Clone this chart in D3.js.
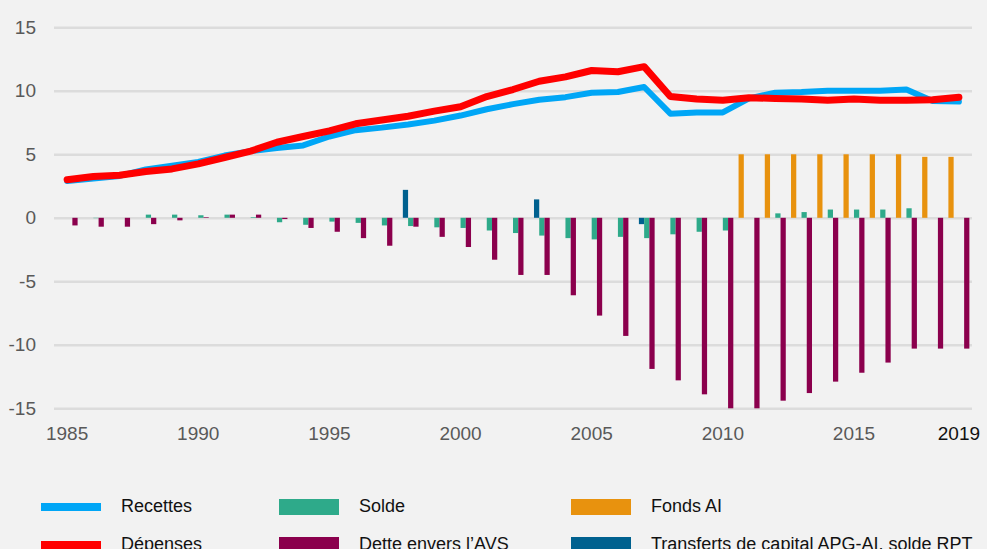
<!DOCTYPE html>
<html>
<head>
<meta charset="utf-8">
<script src="https://cdn.jsdelivr.net/npm/d3@7"></script>
<style>
  body { margin: 0; background: #f2f2f2; }
  #chart text { font-family: "Liberation Sans", Arial, sans-serif; }
</style>
</head>
<body>
<div id="chart"></div>
<script>
// years on the category axis
var years = d3.range(1985, 2020);
var xTickLabels = [1985, 1990, 1995, 2000, 2005, 2010, 2015, 2019];
var yTicks = [-15, -10, -5, 0, 5, 10, 15];

// lines (bn CHF)
var recettes = [2.9, 3.1, 3.3, 3.8, 4.1, 4.4, 4.9, 5.25, 5.5, 5.7, 6.4, 6.9, 7.1, 7.35, 7.65, 8.05, 8.55, 8.95, 9.3, 9.5, 9.85, 9.9, 10.3,
  8.2, 8.3, 8.3, 9.4, 9.85, 9.9, 10.0, 10.0, 10.0, 10.1, 9.2, 9.15];
var depenses = [3.0, 3.25, 3.35, 3.65, 3.85, 4.25, 4.75, 5.25, 5.95, 6.4, 6.85, 7.4, 7.7, 8.0, 8.4, 8.75, 9.55, 10.1, 10.75, 11.1, 11.6, 11.5, 11.9,
  9.55, 9.35, 9.25, 9.45, 9.4, 9.35, 9.25, 9.35, 9.25, 9.25, 9.3, 9.5];

// bars
var solde = [0, -0.03, 0, 0.25, 0.25, 0.2, 0.25, 0.05, -0.35, -0.55, -0.3, -0.4, -0.6, -0.65, -0.75, -0.8, -1.0, -1.2, -1.4, -1.6, -1.7, -1.5, -1.6,
  -1.3, -1.1, -1.0, 0, 0.35, 0.45, 0.65, 0.65, 0.65, 0.75, 0, 0];
var detteAVS = [-0.6, -0.7, -0.7, -0.5, -0.2, 0.05, 0.25, 0.25, -0.1, -0.8, -1.1, -1.6, -2.2, -0.7, -1.5, -2.3, -3.3, -4.5, -4.5, -6.1, -7.7, -9.3, -11.9,
  -12.8, -13.9, -15.0, -15.0, -14.4, -13.8, -12.9, -12.2, -11.4, -10.3, -10.3, -10.3];
var fondsAI = [0, 0, 0, 0, 0, 0, 0, 0, 0, 0, 0, 0, 0, 0, 0, 0, 0, 0, 0, 0, 0, 0, 0,
  0, 0, 0, 5.0, 5.0, 5.0, 5.0, 5.0, 5.0, 5.0, 4.8, 4.8];
var transferts = [0, 0, 0, 0, 0, 0, 0, 0, 0, 0, 0, 0, 0, 2.2, 0, 0, 0, 0, 1.45, 0, 0, 0, -0.5,
  0, 0, 0, 0, 0, 0, 0, 0, 0, 0, 0, 0];

var barSeries = [
  { key: "Fonds AI", values: fondsAI, color: "#e8920e" },
  { key: "Transferts de capital APG-AI, solde RPT", values: transferts, color: "#00618f" },
  { key: "Solde", values: solde, color: "#2eaa8a" },
  { key: "Dette envers l\u2019AVS", values: detteAVS, color: "#8b004d" }
];

var width = 987, height = 549;
var plotLeft = 54, plotRight = 972, plotTop = 27.3, plotBottom = 408.3;

var svg = d3.select("#chart").append("svg")
  .attr("width", width)
  .attr("height", height);

svg.append("rect").attr("width", width).attr("height", height).attr("fill", "#f2f2f2");

var x = d3.scaleBand().domain(years).range([plotLeft, plotRight]).paddingInner(0).paddingOuter(0);
var y = d3.scaleLinear().domain([-15, 15]).range([plotBottom, plotTop]);
var xInner = d3.scaleBand().domain(barSeries.map(function (s) { return s.key; }))
  .range([0, x.bandwidth()]).paddingInner(0).paddingOuter(0.5);

// gridlines
var grid = svg.append("g")
  .attr("transform", "translate(" + plotLeft + ",0)")
  .call(d3.axisLeft(y).tickValues(yTicks).tickSize(-(plotRight - plotLeft)).tickFormat(""));
grid.select(".domain").remove();
grid.selectAll("line").attr("stroke", "#dcdcdc").attr("stroke-width", 2.5);

// y axis labels (plain hyphen for negatives, like the original)
var yAxis = svg.append("g")
  .attr("transform", "translate(" + plotLeft + ",0)")
  .call(d3.axisLeft(y).tickValues(yTicks).tickSize(0).tickPadding(18).tickFormat(function (d) { return String(d); }));
yAxis.select(".domain").remove();
yAxis.selectAll("text").attr("fill", "#595959").style("font-size", "19px");

// x axis labels
var xAxis = svg.append("g")
  .attr("transform", "translate(0," + plotBottom + ")")
  .call(d3.axisBottom(x).tickValues(xTickLabels).tickSize(0).tickPadding(18));
xAxis.select(".domain").remove();
xAxis.selectAll("text")
  .attr("fill", function (d) { return d === 2019 ? "#111" : "#595959"; })
  .style("font-size", "19px");

// bars
barSeries.forEach(function (s) {
  svg.append("g").selectAll("rect")
    .data(s.values.map(function (v, i) { return { year: years[i], v: v }; }).filter(function (d) { return d.v !== 0; }))
    .enter().append("rect")
    .attr("x", function (d) { return x(d.year) + xInner(s.key); })
    .attr("width", xInner.bandwidth())
    .attr("y", function (d) { return y(Math.max(0, d.v)); })
    .attr("height", function (d) { return Math.abs(y(d.v) - y(0)); })
    .attr("fill", s.color);
});

// lines
var line = d3.line()
  .x(function (d, i) { return x(years[i]) + x.bandwidth() / 2; })
  .y(function (d) { return y(d); });

svg.append("path").datum(recettes)
  .attr("d", line).attr("fill", "none")
  .attr("stroke", "#00a6f6").attr("stroke-width", 6)
  .attr("stroke-linejoin", "round").attr("stroke-linecap", "round");
svg.append("path").datum(depenses)
  .attr("d", line).attr("fill", "none")
  .attr("stroke", "#ff0000").attr("stroke-width", 7)
  .attr("stroke-linejoin", "round").attr("stroke-linecap", "round");

// legend
var legendItems = [
  { key: "Recettes", color: "#00a6f6", type: "line", col: 0, row: 0 },
  { key: "D\u00e9penses", color: "#ff0000", type: "line", col: 0, row: 1 },
  { key: "Solde", color: "#2eaa8a", type: "rect", col: 1, row: 0 },
  { key: "Dette envers l\u2019AVS", color: "#8b004d", type: "rect", col: 1, row: 1 },
  { key: "Fonds AI", color: "#e8920e", type: "rect", col: 2, row: 0 },
  { key: "Transferts de capital APG-AI, solde RPT", color: "#00618f", type: "rect", col: 2, row: 1 }
];
var colX = [41, 279, 571];
var rowY = [507, 545];

var legend = svg.append("g").selectAll("g").data(legendItems).enter().append("g")
  .attr("transform", function (d) { return "translate(" + colX[d.col] + "," + rowY[d.row] + ")"; });
legend.append("rect")
  .attr("x", 0)
  .attr("y", function (d) { return d.type === "line" ? -4 : -8; })
  .attr("width", 60)
  .attr("height", function (d) { return d.type === "line" ? 8 : 16; })
  .attr("fill", function (d) { return d.color; });
legend.append("text")
  .attr("x", 80)
  .attr("y", 5)
  .attr("fill", "#111")
  .style("font-size", "18px")
  .text(function (d) { return d.key; });
</script>
</body>
</html>
